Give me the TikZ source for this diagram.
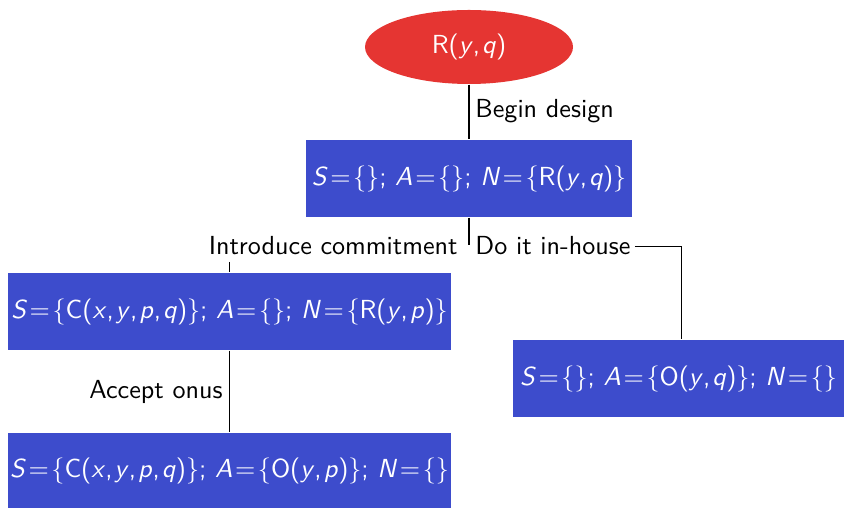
\documentclass[tikz,border=0pt]{standalone}
\usetikzlibrary{shapes.geometric}
\definecolor{nodeblue}{RGB}{61,76,204}
\definecolor{nodered}{RGB}{229,53,50}
\newcommand{\mv}[1]{\textit{#1}}
\newcommand{\eqs}{\hspace{0.1em}=\hspace{0.1em}}
\newcommand{\cm}{,\hspace{0.08em}}
\begin{document}
\begin{tikzpicture}[x=0.383pt,y=-0.383pt,
  font=\sffamily, line width=0.4pt,
  statebox/.style={fill=nodeblue, text=white, inner sep=0pt, minimum height=77*0.383pt},
  edgelabel/.style={fill=white, inner ysep=2.3pt, inner xsep=1.5pt, text=black}]
\useasboundingbox (0,0) rectangle (844,508);
\node[ellipse, fill=nodered, text=white, inner sep=0pt,
      minimum width=208*0.383pt, minimum height=74*0.383pt] (root) at (469,47) {R(\mv{y}\cm\mv{q})};
\node[statebox, minimum width=326*0.383pt] (b1) at (469,178.5)
  {\mv{S}\eqs\{\}; \mv{A}\eqs\{\}; \mv{N}\eqs\{R(\mv{y}\cm\mv{q})\}};
\node[statebox, minimum width=443*0.383pt] (b2) at (229.5,311.5)
  {\mv{S}\eqs\{C(\mv{x}\cm\mv{y}\cm\mv{p}\cm\mv{q})\}; \mv{A}\eqs\{\}; \mv{N}\eqs\{R(\mv{y}\cm\mv{p})\}};
\node[statebox, minimum width=331*0.383pt] (b3) at (678.5,378.5)
  {\mv{S}\eqs\{\}; \mv{A}\eqs\{O(\mv{y}\cm\mv{q})\}; \mv{N}\eqs\{\}};
\node[statebox, minimum width=443*0.383pt, minimum height=75*0.383pt] (b4) at (229.5,470.5)
  {\mv{S}\eqs\{C(\mv{x}\cm\mv{y}\cm\mv{p}\cm\mv{q})\}; \mv{A}\eqs\{O(\mv{y}\cm\mv{p})\}; \mv{N}\eqs\{\}};
\coordinate (m) at (469,245);
\node[edgelabel, anchor=base west] (l1) at (471,118) {Begin design};
\node[edgelabel, anchor=base east] (l2) at (462,255) {Introduce commitment};
\node[edgelabel, anchor=base west] (l3) at (471,255) {Do it in-house};
\node[edgelabel, anchor=base east] (l4) at (227,399) {Accept onus};
\draw (root.south) -- (b1.north);
\draw (b1.south) -- (m);
\draw (l2.south -| b2.north) -- (b2.north);
\draw (l3.east) -| ([xshift=1pt]b3.north);
\draw (b2.south) -- (b4.north);
\end{tikzpicture}
\end{document}
